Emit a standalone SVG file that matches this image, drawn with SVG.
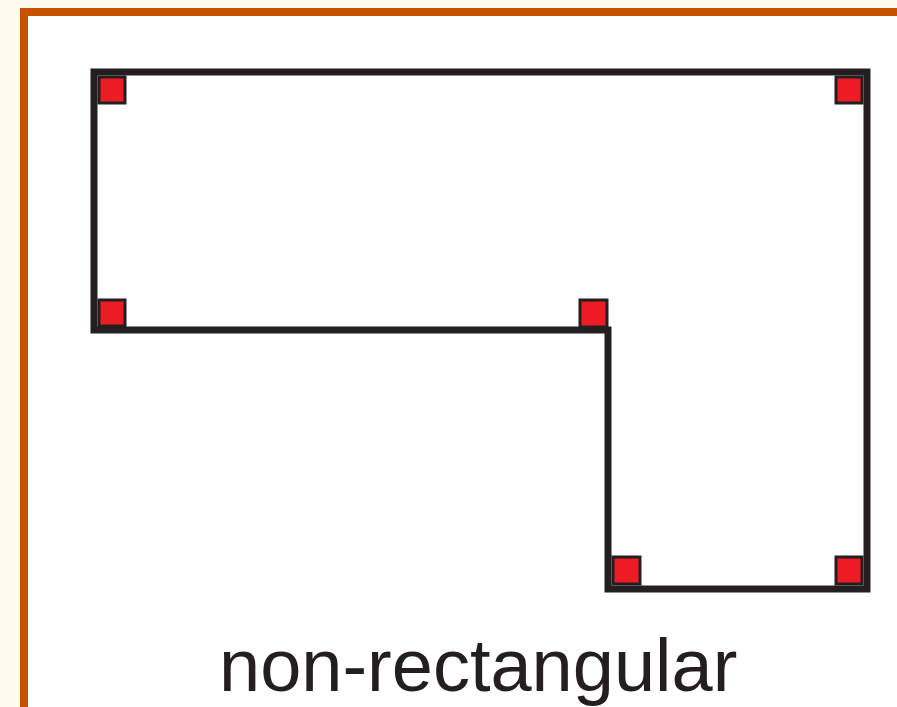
<svg xmlns="http://www.w3.org/2000/svg" width="897" height="707" viewBox="0 0 897 707">
<style>
.mk{fill:#ED1C24;stroke:#231F20;stroke-width:3}
.shape{fill:none;stroke:#231F20;stroke-width:7;stroke-linejoin:miter}
.lbl{font-family:"Liberation Sans",Arial,sans-serif;font-size:74px;fill:#231F20}
</style>
<rect x="0" y="0" width="897" height="707" fill="#FFFBEC"/>
<g id="frame">
<rect x="24" y="12" width="900" height="720" fill="#FFFFFF" stroke="#C65200" stroke-width="8"/>
</g>
<g id="outline">
<polygon class="shape" points="94,72 867,72 867,589 608,589 608,330 94,330"/>
</g>
<g id="markers">
<rect class="mk" x="99" y="77" width="26" height="26"/>
<rect class="mk" x="836" y="77" width="26" height="26"/>
<rect class="mk" x="99" y="300" width="26" height="26"/>
<rect class="mk" x="580" y="300" width="27" height="27"/>
<rect class="mk" x="613" y="557" width="27" height="27"/>
<rect class="mk" x="836" y="557" width="26" height="27"/>
</g>
<g id="label">
<text class="lbl" x="219" y="691">non-rectangular</text>
</g>
</svg>
